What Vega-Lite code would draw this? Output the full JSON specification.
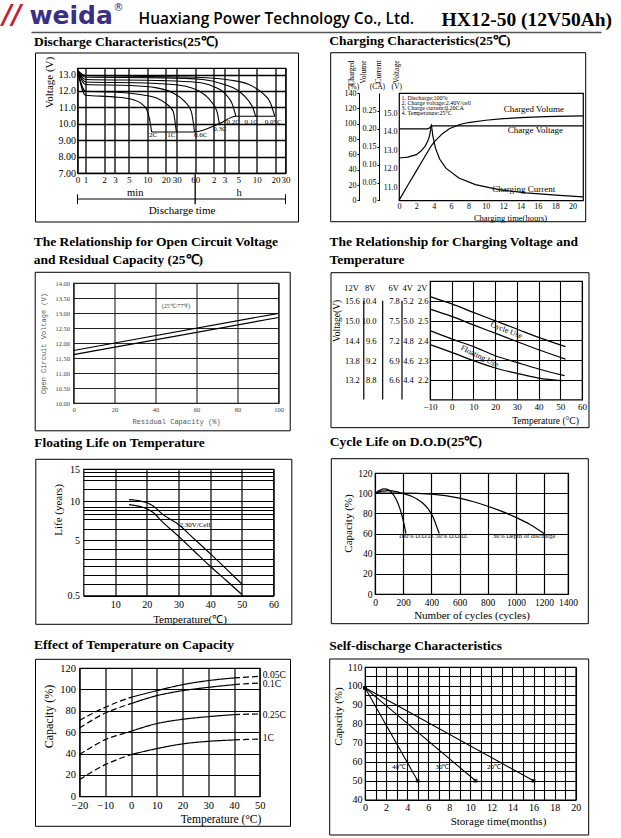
{
"$schema": "https://vega.github.io/schema/vega-lite/v6.json",
"autosize": {"type": "none"},
"padding": {"left": 0, "top": 0, "right": 621, "bottom": 838},
"background": "white",
"spacing": 0,
"vconcat": [
{"spacing": 0, "hconcat": [
 {"width": 0.001, "height": 0.001, "data": {"values": []}, "mark": "point", "view": {"stroke": null}},
 {
   "width": 570, "height": 32, "view": {"stroke": null},
   "layer": [
    {"data": {"values": []}, "mark": "point",
     "encoding": {
      "x": {"field": "x", "type": "quantitative", "scale": {"domain": [0, 1]}, "axis": {"orient": "bottom", "labels": false, "ticks": false, "grid": false, "domain": true, "domainColor": "#555", "domainWidth": 1.5, "title": "HX12-50 (12V50Ah)", "titleFont": "Liberation Serif", "titleFontSize": 19.5, "titleFontWeight": "bold", "titleX": 410, "titleY": -13, "titleAlign": "left", "titleBaseline": "middle"}},
      "y": {"field": "y", "type": "quantitative", "scale": {"domain": [0, 1]}, "axis": {"orient": "left", "labels": false, "ticks": false, "grid": false, "domain": false, "title": "weida", "titleAngle": 0, "titleX": -2, "titleY": 15, "titleAlign": "left", "titleBaseline": "middle", "titleFont": "DejaVu Sans", "titleFontWeight": "bold", "titleFontSize": 25, "titleColor": "#3a2f85"}}
     }},
    {"data": {"values": []}, "mark": "point",
     "encoding": {
      "x": {"field": "x", "type": "quantitative", "scale": {"domain": [0, 1]}, "axis": {"orient": "top", "labels": false, "ticks": false, "grid": false, "domain": false, "title": "Huaxiang Power Technology Co., Ltd.", "titleFont": "Open Sans", "titleFontSize": 15.5, "titleFontWeight": 600, "titleX": 107, "titleY": 18, "titleAlign": "left", "titleBaseline": "middle"}},
      "y": {"field": "y", "type": "quantitative", "scale": {"domain": [0, 1]}, "axis": {"orient": "right", "labels": false, "ticks": false, "grid": false, "domain": false, "title": "®", "titleAngle": 0, "titleX": -488, "titleY": 7, "titleAlign": "left", "titleBaseline": "middle", "titleFont": "DejaVu Sans", "titleFontSize": 10, "titleColor": "#3a2f85"}}
     }},
    {"data": {"values": []}, "mark": "point",
     "encoding": {
      "x": {"field": "x", "type": "quantitative", "scale": {"domain": [0, 1]}, "axis": null},
      "y": {"field": "y", "type": "quantitative", "scale": {"domain": [0, 1]}, "axis": {"orient": "left", "labels": false, "ticks": false, "grid": false, "domain": false, "title": "//", "titleAngle": 0, "titleX": -29, "titleY": 15, "titleAlign": "left", "titleBaseline": "middle", "titleFont": "DejaVu Sans", "titleFontWeight": "bold", "titleFontStyle": "italic", "titleFontSize": 26, "titleColor": "#c62032"}}
     }},
    {"data": {"values": [{}]}, "mark": {"type": "rect", "opacity": 0},
     "encoding": {"x": {"datum": -0.05263, "type": "quantitative", "scale": {"domain": [0, 1]}, "axis": null}, "x2": {"datum": 1.03684}, "y": {"datum": 1, "type": "quantitative", "scale": {"domain": [0, 1]}, "axis": null}, "y2": {"datum": 0.0125}}}
   ],
   "resolve": {"scale": {"x": "independent", "y": "independent"}, "axis": {"x": "independent", "y": "independent"}}
 }
]},
{"spacing": -1.5, "hconcat": [
 {"width": 0.001, "height": 0.001, "data": {"values": []}, "mark": "point", "view": {"stroke": null}},
 {"spacing": 0, "vconcat": [
  {"width": 0.001, "height": 0.001, "data": {"values": []}, "mark": "point", "view": {"stroke": null}},
  {
   "width": 208, "height": 105,
   "layer": [
    {"data": {"values": [
     {"c":"2C","t":0.74,"v":13.25},{"c":"2C","t":1,"v":11.74},{"c":"2C","t":2.85,"v":11.64},{"c":"2C","t":5.28,"v":11.52},{"c":"2C","t":8.14,"v":11.21},{"c":"2C","t":9.8,"v":10.87},{"c":"2C","t":10.8,"v":10.36},{"c":"2C","t":11.8,"v":9.5},
     {"c":"1C","t":0.74,"v":13.25},{"c":"1C","t":1,"v":11.98},{"c":"1C","t":2.85,"v":11.94},{"c":"1C","t":7.65,"v":11.78},{"c":"1C","t":14.2,"v":11.57},{"c":"1C","t":20.5,"v":11.21},{"c":"1C","t":26.3,"v":10.76},{"c":"1C","t":29.7,"v":9.5},
     {"c":"0.6C","t":0.74,"v":13.25},{"c":"0.6C","t":1,"v":12.39},{"c":"0.6C","t":5.28,"v":12.33},{"c":"0.6C","t":14.2,"v":12.19},{"c":"0.6C","t":26.3,"v":11.88},{"c":"0.6C","t":40.4,"v":11.37},{"c":"0.6C","t":51.8,"v":10.76},{"c":"0.6C","t":58.6,"v":9.5},
     {"c":"0.3C","t":0.74,"v":13.25},{"c":"0.3C","t":1,"v":12.55},{"c":"0.3C","t":9.8,"v":12.49},{"c":"0.3C","t":33.6,"v":12.35},{"c":"0.3C","t":70.5,"v":11.98},{"c":"0.3C","t":108,"v":11.37},{"c":"0.3C","t":135,"v":10.76},{"c":"0.3C","t":148,"v":10.01},
     {"c":"0.2C","t":0.74,"v":13.25},{"c":"0.2C","t":1,"v":12.7},{"c":"0.2C","t":18.1,"v":12.63},{"c":"0.2C","t":62.3,"v":12.53},{"c":"0.2C","t":115,"v":12.29},{"c":"0.2C","t":189,"v":11.78},{"c":"0.2C","t":242,"v":11.17},{"c":"0.2C","t":274,"v":10.46},
     {"c":"0.1C","t":0.74,"v":13.25},{"c":"0.1C","t":1,"v":12.84},{"c":"0.1C","t":18.1,"v":12.8},{"c":"0.1C","t":79.7,"v":12.7},{"c":"0.1C","t":167,"v":12.43},{"c":"0.1C","t":310,"v":11.98},{"c":"0.1C","t":448,"v":11.37},{"c":"0.1C","t":519,"v":10.96},{"c":"0.1C","t":573,"v":10.46},
     {"c":"0.05C","t":0.74,"v":13.25},{"c":"0.05C","t":1,"v":12.94},{"c":"0.05C","t":5.28,"v":12.9},{"c":"0.05C","t":62.3,"v":12.84},{"c":"0.05C","t":214,"v":12.67},{"c":"0.05C","t":448,"v":12.39},{"c":"0.05C","t":734,"v":11.88},{"c":"0.05C","t":999,"v":11.27},{"c":"0.05C","t":1172,"v":10.46},
     {"c":"end","t":11.8,"v":9.5},{"c":"end","t":58.6,"v":9.5},{"c":"end","t":148,"v":10.01},{"c":"end","t":274,"v":10.46},{"c":"end","t":1172,"v":10.46}
    ]},
    "mark": {"type": "line", "strokeWidth": 1.1, "interpolate": "monotone"},
    "encoding": {
     "x": {"field": "t", "type": "quantitative", "scale": {"type": "log", "domain": [0.74, 1750]},
           "axis": {"values": [0.74,1,2,3,5,10,20,30,60,120,180,300,600,1200,1750], "labelExpr": "datum.value < 0.9 ? '0' : datum.value > 1700 ? '30' : datum.value >= 120 ? format(datum.value / 60, 'd') : format(datum.value, 'd')", "grid": true, "gridWidth": 1.3, "labelFontSize": 9, "title": "Discharge time", "titleFontSize": 11, "titlePadding": 20}},
     "y": {"field": "v", "type": "quantitative", "scale": {"domain": [7, 13.4]},
           "axis": {"values": [7,8,9,10,11,12,13], "labelExpr": "datum.value >= 10 ? format(datum.value, '.1f') : format(datum.value, '.2f')", "grid": true, "gridWidth": 1.3, "labelFontSize": 10, "title": "Voltage (V)", "titleFontSize": 11, "titleY": 14}},
     "detail": {"field": "c", "type": "nominal"}
    }},
    {"data": {"values": [
     {"label":"2C","t":12.4,"v":9.3},{"label":"1C","t":24.7,"v":9.3},{"label":"0.6C","t":74,"v":9.3},{"label":"0.3C","t":151,"v":9.7},{"label":"0.2C","t":248,"v":10.1},{"label":"0.1C","t":488,"v":10.1},{"label":"0.05C","t":1102,"v":10.1}
    ]},
    "mark": {"type": "text", "fontSize": 7, "baseline": "middle"},
    "encoding": {"x": {"field": "t", "type": "quantitative", "scale": {"type": "log", "domain": [0.74, 1750]}, "axis": null}, "y": {"field": "v", "type": "quantitative", "scale": {"domain": [7, 13.4]}, "axis": null}, "text": {"field": "label"}}},
    {"data": {"values": [{}]}, "mark": {"type": "rule", "strokeWidth": 1},
     "encoding": {"x": {"datum": 0.74, "type": "quantitative", "scale": {"type": "log", "domain": [0.74, 1750]}, "axis": null}, "x2": {"datum": 1750}, "y": {"datum": 5.415, "type": "quantitative", "scale": {"domain": [7, 13.4]}, "axis": null}}},
    {"data": {"values": [{}]}, "mark": {"type": "rule", "strokeWidth": 1.3},
     "encoding": {"x": {"datum": 60, "type": "quantitative", "scale": {"type": "log", "domain": [0.74, 1750]}, "axis": null}, "y": {"datum": 7, "type": "quantitative", "scale": {"domain": [7, 13.4]}, "axis": null}, "y2": {"datum": 5.1}}},
    {"data": {"values": [{}]}, "mark": {"type": "rule", "strokeWidth": 1},
     "encoding": {"x": {"datum": 0.74, "type": "quantitative", "scale": {"type": "log", "domain": [0.74, 1750]}, "axis": null}, "y": {"datum": 5.7, "type": "quantitative", "scale": {"domain": [7, 13.4]}, "axis": null}, "y2": {"datum": 5.1}}},
    {"data": {"values": [{}]}, "mark": {"type": "rule", "strokeWidth": 1},
     "encoding": {"x": {"datum": 1750, "type": "quantitative", "scale": {"type": "log", "domain": [0.74, 1750]}, "axis": null}, "y": {"datum": 5.7, "type": "quantitative", "scale": {"domain": [7, 13.4]}, "axis": null}, "y2": {"datum": 5.1}}},
    {"data": {"values": [{}]}, "mark": {"type": "text", "fontSize": 10.5},
     "encoding": {"x": {"datum": 6.4, "type": "quantitative", "scale": {"type": "log", "domain": [0.74, 1750]}, "axis": null}, "y": {"datum": 5.8, "type": "quantitative", "scale": {"domain": [7, 13.4]}, "axis": null}, "text": {"value": "min"}}},
    {"data": {"values": [{}]}, "mark": {"type": "text", "fontSize": 10.5},
     "encoding": {"x": {"datum": 310, "type": "quantitative", "scale": {"type": "log", "domain": [0.74, 1750]}, "axis": null}, "y": {"datum": 5.8, "type": "quantitative", "scale": {"domain": [7, 13.4]}, "axis": null}, "text": {"value": "h"}}},
    {"data": {"values": [{}]}, "mark": {"type": "rect", "filled": false, "stroke": "black", "strokeWidth": 1},
     "encoding": {"x": {"datum": 0.1542, "type": "quantitative", "scale": {"type": "log", "domain": [0.74, 1750]}, "axis": null}, "x2": {"datum": 2843}, "y": {"datum": 14.314, "type": "quantitative", "scale": {"domain": [7, 13.4]}, "axis": null}, "y2": {"datum": 4.013}}},
    {"data": {"values": [{}]}, "mark": {"type": "rect", "opacity": 0},
     "encoding": {"x": {"datum": 0.04172, "type": "quantitative", "scale": {"type": "log", "domain": [0.74, 1750]}, "axis": null}, "x2": {"datum": 6468}, "y": {"datum": 15.448, "type": "quantitative", "scale": {"domain": [7, 13.4]}, "axis": null}, "y2": {"datum": 3.793}}},
    {"data": {"values": []}, "mark": "point",
     "encoding": {"x": {"field": "x", "type": "quantitative", "scale": {"domain": [0, 1]}, "axis": {"orient": "top", "labels": false, "ticks": false, "domain": false, "grid": false, "title": "Discharge Characteristics(25℃)", "titleFontWeight": "bold", "titleFontSize": 13.5, "titleX": -44, "titleY": -27, "titleAlign": "left", "titleBaseline": "middle"}}}}
   ],
   "resolve": {"scale": {"x": "independent", "y": "independent"}, "axis": {"x": "independent", "y": "independent"}}
  }
 ]},
 {"spacing": 0, "vconcat": [
  {"width": 0.001, "height": 0.001, "data": {"values": []}, "mark": "point", "view": {"stroke": null}},
  {
   "width": 184, "height": 107.4,
   "layer": [
    {"data": {"values": [{"t":0,"v":12.59},{"t":1,"v":12.64},{"t":2,"v":12.77},{"t":2.5,"v":12.95},{"t":3,"v":13.22},{"t":3.3,"v":13.49},{"t":3.5,"v":13.76},{"t":3.65,"v":14.12},{"t":3.74,"v":14.33},{"t":21.2,"v":14.33}]},
     "mark": {"type": "line", "strokeWidth": 1.2},
     "encoding": {
      "x": {"field": "t", "type": "quantitative", "scale": {"domain": [0, 21.2]}, "axis": {"values": [0,2,4,6,8,10,12,14,16,18,20], "labelFontSize": 8, "labelPadding": 2, "title": "Charging time(hours)", "titleFontSize": 8.5, "titleX": 111, "titlePadding": 3, "grid": false}},
      "y": {"field": "v", "type": "quantitative", "scale": {"domain": [10.3, 16.1]}, "axis": {"orient": "left", "offset": 0, "values": [11,12,13,14,15], "format": ".1f", "labelFontSize": 8, "labelPadding": 2, "grid": false, "title": "Voltage", "titleFontSize": 7.5, "titleAngle": -90, "titleX": -3, "titleY": -33, "titleAlign": "right", "titleBaseline": "middle"}}
     }},
    {"data": {"values": [{}]}, "mark": {"type": "text", "align": "left", "baseline": "top", "fontSize": 6, "lineHeight": 5},
     "encoding": {"x": {"datum": 0.3, "type": "quantitative", "scale": {"domain": [0, 21.2]}, "axis": null}, "y": {"datum": 16.0, "type": "quantitative", "scale": {"domain": [10.3, 16.1]}, "axis": null},
      "text": {"value": ["1. Discharge:100%", "2. Charge voltage:2.40V/cell", "3. Charge current:0.20CA", "4. Temperature:25°C"]}}},
    {"data": {"values": [{"label":"Charged Volume","t":19.0,"v":15.22},{"label":"Charge Voltage","t":18.9,"v":14.09},{"label":"Charging Current","t":18.0,"v":10.93}]},
     "mark": {"type": "text", "align": "right", "baseline": "middle", "fontSize": 9},
     "encoding": {"x": {"field": "t", "type": "quantitative", "scale": {"domain": [0, 21.2]}, "axis": null}, "y": {"field": "v", "type": "quantitative", "scale": {"domain": [10.3, 16.1]}, "axis": null}, "text": {"field": "label"}}},
    {"data": {"values": [{}]}, "mark": {"type": "text", "fontSize": 7.5, "dx": -2.3, "dy": -5.6},
     "encoding": {"x": {"datum": 0, "type": "quantitative", "scale": {"domain": [0, 21.2]}, "axis": null}, "y": {"datum": 16.1, "type": "quantitative", "scale": {"domain": [10.3, 16.1]}, "axis": null}, "text": {"value": "(V)"}}},
    {"data": {"values": [{}]}, "mark": {"type": "rect", "filled": false, "stroke": "black", "strokeWidth": 1},
     "encoding": {"x": {"datum": -7.869, "type": "quantitative", "scale": {"domain": [0, 21.2]}, "axis": null}, "x2": {"datum": 21.511}, "y": {"datum": 18.276, "type": "quantitative", "scale": {"domain": [10.3, 16.1]}, "axis": null}, "y2": {"datum": 9.149}}},
    {"data": {"values": [{}]}, "mark": {"type": "rect", "opacity": 0},
     "encoding": {"x": {"datum": -9.021, "type": "quantitative", "scale": {"domain": [0, 21.2]}, "axis": null}, "x2": {"datum": 25.659}, "y": {"datum": 19.28, "type": "quantitative", "scale": {"domain": [10.3, 16.1]}, "axis": null}, "y2": {"datum": 8.956}}},
    {"data": {"values": [{"t":0,"c":0.2},{"t":3.3,"c":0.2},{"t":3.55,"c":0.203},{"t":3.74,"c":0.21},{"t":3.9,"c":0.18},{"t":4.2,"c":0.146},{"t":4.7,"c":0.115},{"t":5.4,"c":0.09},{"t":6.9,"c":0.0625},{"t":8.8,"c":0.044},{"t":11.5,"c":0.03},{"t":14.6,"c":0.021},{"t":18.5,"c":0.014},{"t":21.2,"c":0.01}]},
     "mark": {"type": "line", "strokeWidth": 1.2},
     "encoding": {
      "x": {"field": "t", "type": "quantitative", "scale": {"domain": [0, 21.2]}, "axis": null},
      "y": {"field": "c", "type": "quantitative", "scale": {"domain": [0, 0.3]}, "axis": {"orient": "left", "offset": 20, "values": [0,0.05,0.1,0.15,0.2,0.25], "labelExpr": "datum.value == 0 ? '0' : format(datum.value, '.2f')", "domain": true, "domainColor": "black", "ticks": true, "tickSize": 2, "tickColor": "black", "labelFontSize": 8, "labelPadding": 1, "grid": false, "title": "Current", "titleFontSize": 7.5, "titleAngle": -90, "titleX": -1, "titleY": -33, "titleAlign": "right", "titleBaseline": "middle"}}
     }},
    {"data": {"values": [{}]}, "mark": {"type": "text", "fontSize": 7.5, "dx": -21.6, "dy": -5.6},
     "encoding": {"x": {"datum": 0, "type": "quantitative", "scale": {"domain": [0, 21.2]}, "axis": null}, "y": {"datum": 0.3, "type": "quantitative", "scale": {"domain": [0, 0.3]}, "axis": null}, "text": {"value": "(CA)"}}},
    {"data": {"values": [{"t":0,"p":0},{"t":1,"p":19.5},{"t":2,"p":38.5},{"t":3,"p":57.5},{"t":3.74,"p":71.5},{"t":4.2,"p":78},{"t":5,"p":87},{"t":5.8,"p":93.5},{"t":7,"p":99},{"t":8,"p":101.5},{"t":10,"p":104.5},{"t":12,"p":106.5},{"t":14,"p":107.8},{"t":16,"p":108.8},{"t":18,"p":109.5},{"t":21.2,"p":110.3}]},
     "mark": {"type": "line", "strokeWidth": 1.2},
     "encoding": {
      "x": {"field": "t", "type": "quantitative", "scale": {"domain": [0, 21.2]}, "axis": null},
      "y": {"field": "p", "type": "quantitative", "scale": {"domain": [0, 140]}, "axis": {"orient": "left", "offset": 40, "values": [0,20,40,60,80,100,120,140], "domain": true, "domainColor": "black", "ticks": true, "tickSize": 2, "tickColor": "black", "labelFontSize": 8, "labelPadding": 1, "grid": false, "title": ["Charged", "Volume"], "titleLineHeight": 12, "titleFontSize": 7.5, "titleAngle": -90, "titleX": -7.3, "titleY": -33, "titleAlign": "right", "titleBaseline": "middle"}}
     }},
    {"data": {"values": [{}]}, "mark": {"type": "text", "fontSize": 7.5, "dx": -45.3, "dy": -5.6},
     "encoding": {"x": {"datum": 0, "type": "quantitative", "scale": {"domain": [0, 21.2]}, "axis": null}, "y": {"datum": 140, "type": "quantitative", "scale": {"domain": [0, 140]}, "axis": null}, "text": {"value": "(%)"}}},
    {"data": {"values": []}, "mark": "point",
     "encoding": {"x": {"field": "x", "type": "quantitative", "scale": {"domain": [0, 1]}, "axis": {"orient": "top", "labels": false, "ticks": false, "domain": false, "grid": false, "title": "Charging Characteristics(25℃)", "titleFontWeight": "bold", "titleFontSize": 13.5, "titleX": -70.3, "titleY": -52.3, "titleAlign": "left", "titleBaseline": "middle"}}}}
   ],
   "resolve": {"scale": {"x": "independent", "y": "independent"}, "axis": {"x": "independent", "y": "independent"}}
  }
 ]}
]},
{"spacing": -1.5, "hconcat": [
 {"width": 0.001, "height": 0.001, "data": {"values": []}, "mark": "point", "view": {"stroke": null}},
 {"spacing": 0, "vconcat": [
  {"width": 0.001, "height": 0.001, "data": {"values": []}, "mark": "point", "view": {"stroke": null}},
  {
   "width": 205, "height": 120,
   "layer": [
    {"data": {"values": [{"s":"upper","r":0,"v":11.75},{"s":"upper","r":100,"v":12.99},{"s":"lower","r":0,"v":11.61},{"s":"lower","r":100,"v":12.85}]},
     "mark": {"type": "line", "strokeWidth": 1.2},
     "encoding": {
      "x": {"field": "r", "type": "quantitative", "scale": {"domain": [0, 100]}, "axis": {"values": [0,20,40,60,80,100], "grid": true, "gridColor": "#222", "gridWidth": 1.1, "labelFontSize": 6.5, "labelColor": "#444", "labelPadding": 3, "title": "Residual Capacity (%)", "titleFont": "Liberation Mono", "titleFontSize": 7, "titleColor": "#555", "titlePadding": 5}},
      "y": {"field": "v", "type": "quantitative", "scale": {"domain": [10, 14]}, "axis": {"values": [10,10.5,11,11.5,12,12.5,13,13.5,14], "format": ".2f", "grid": true, "gridColor": "#222", "gridWidth": 1.1, "labelFontSize": 6.5, "labelColor": "#444", "labelPadding": 4, "title": "Open Circuit Voltage (V)", "titleFont": "Liberation Mono", "titleFontSize": 7, "titleColor": "#555", "titlePadding": 8}},
      "detail": {"field": "s", "type": "nominal"}
     }},
    {"data": {"values": [{}]}, "mark": {"type": "text", "fontSize": 6, "color": "#444"},
     "encoding": {"x": {"datum": 50, "type": "quantitative", "scale": {"domain": [0, 100]}, "axis": null}, "y": {"datum": 13.22, "type": "quantitative", "scale": {"domain": [10, 14]}, "axis": null}, "text": {"value": "(25℃/77℉)"}}},
    {"data": {"values": [{}]}, "mark": {"type": "rect", "filled": false, "stroke": "black", "strokeWidth": 1},
     "encoding": {"x": {"datum": -18.68, "type": "quantitative", "scale": {"domain": [0, 100]}, "axis": null}, "x2": {"datum": 105.71}, "y": {"datum": 14.357, "type": "quantitative", "scale": {"domain": [10, 14]}, "axis": null}, "y2": {"datum": 9.073}}},
    {"data": {"values": [{}]}, "mark": {"type": "rect", "opacity": 0},
     "encoding": {"x": {"datum": -35.76, "type": "quantitative", "scale": {"domain": [0, 100]}, "axis": null}, "x2": {"datum": 120.34}, "y": {"datum": 15.81, "type": "quantitative", "scale": {"domain": [10, 14]}, "axis": null}, "y2": {"datum": 9.037}}},
    {"data": {"values": []}, "mark": "point",
     "encoding": {"x": {"field": "x", "type": "quantitative", "scale": {"domain": [0, 1]}, "axis": {"orient": "top", "labels": false, "ticks": false, "domain": false, "grid": false, "title": ["The Relationship for Open Circuit Voltage", "and Residual Capacity (25℃)"], "titleLineHeight": 18, "titleFontWeight": "bold", "titleFontSize": 13.5, "titleX": -40.3, "titleY": -41.7, "titleAlign": "left", "titleBaseline": "middle"}}}}
   ],
   "resolve": {"scale": {"x": "independent", "y": "independent"}, "axis": {"x": "independent", "y": "independent"}}
  }
 ]},
 {"spacing": 0, "vconcat": [
  {"width": 0.001, "height": 0.001, "data": {"values": []}, "mark": "point", "view": {"stroke": null}},
  {
   "width": 152, "height": 118.6,
   "layer": [
    {"data": {"values": [
      {"s":"cu","t":-10,"v":2.621},{"s":"cu","t":0,"v":2.584},{"s":"cu","t":10,"v":2.541},{"s":"cu","t":20,"v":2.499},{"s":"cu","t":30,"v":2.457},{"s":"cu","t":40,"v":2.415},{"s":"cu","t":52.4,"v":2.368},
      {"s":"cl","t":-10,"v":2.558},{"s":"cl","t":0,"v":2.521},{"s":"cl","t":10,"v":2.478},{"s":"cl","t":20,"v":2.436},{"s":"cl","t":30,"v":2.394},{"s":"cl","t":40,"v":2.352},{"s":"cl","t":52.4,"v":2.305},
      {"s":"fu","t":-10,"v":2.449},{"s":"fu","t":0,"v":2.407},{"s":"fu","t":10,"v":2.368},{"s":"fu","t":20,"v":2.322},{"s":"fu","t":30,"v":2.288},{"s":"fu","t":40,"v":2.255},{"s":"fu","t":52,"v":2.221},
      {"s":"fl","t":-10,"v":2.378},{"s":"fl","t":0,"v":2.339},{"s":"fl","t":10,"v":2.297},{"s":"fl","t":20,"v":2.26},{"s":"fl","t":30,"v":2.233},{"s":"fl","t":40,"v":2.209},{"s":"fl","t":51,"v":2.196}
     ]},
     "mark": {"type": "line", "strokeWidth": 1.2, "interpolate": "monotone"},
     "encoding": {
      "x": {"field": "t", "type": "quantitative", "scale": {"domain": [-10, 60]}, "axis": {"values": [-10,0,10,20,30,40,50,60], "grid": true, "gridWidth": 1.1, "labelFontSize": 9, "labelPadding": 3, "title": "Temperature (°C)", "titleFontSize": 9.5, "titleX": 115, "titlePadding": 4}},
      "y": {"field": "v", "type": "quantitative", "scale": {"domain": [2.1, 2.7]}, "axis": {"orient": "left", "offset": 2, "values": [2.2,2.3,2.4,2.5,2.6], "format": ".1f", "grid": true, "gridWidth": 1.1, "labelFontSize": 8.5, "labelPadding": 0, "title": "2V", "titleAngle": 0, "titleX": -1, "titleY": 6, "titleAlign": "right", "titleBaseline": "middle", "titleFontSize": 8.5}},
      "detail": {"field": "s", "type": "nominal"}
     }},
    {"data": {"values": [{}]}, "mark": {"type": "text", "fontSize": 8, "angle": 21},
     "encoding": {"x": {"datum": 25.1, "type": "quantitative", "scale": {"domain": [-10, 60]}, "axis": null}, "y": {"datum": 2.449, "type": "quantitative", "scale": {"domain": [2.1, 2.7]}, "axis": null}, "text": {"value": "Cycle Use"}}},
    {"data": {"values": [{}]}, "mark": {"type": "text", "fontSize": 8, "angle": 26},
     "encoding": {"x": {"datum": 12.8, "type": "quantitative", "scale": {"domain": [-10, 60]}, "axis": null}, "y": {"datum": 2.317, "type": "quantitative", "scale": {"domain": [2.1, 2.7]}, "axis": null}, "text": {"value": "Floating Use"}}},
    {"data": {"values": [{}]}, "mark": {"type": "rect", "filled": false, "stroke": "black", "strokeWidth": 1},
     "encoding": {"x": {"datum": -55.59, "type": "quantitative", "scale": {"domain": [-10, 60]}, "axis": null}, "x2": {"datum": 63.22}, "y": {"datum": 2.742, "type": "quantitative", "scale": {"domain": [2.1, 2.7]}, "axis": null}, "y2": {"datum": 1.958}}},
    {"data": {"values": [{}]}, "mark": {"type": "rect", "opacity": 0},
     "encoding": {"x": {"datum": -60.2, "type": "quantitative", "scale": {"domain": [-10, 60]}, "axis": null}, "x2": {"datum": 78.42}, "y": {"datum": 2.9625, "type": "quantitative", "scale": {"domain": [2.1, 2.7]}, "axis": null}, "y2": {"datum": 1.9346}}},
    {"data": {"values": [{}]}, "mark": {"type": "rule", "strokeWidth": 1.2},
     "encoding": {"x": {"datum": -22.9, "type": "quantitative", "scale": {"domain": [-10, 60]}, "axis": null},
      "y": {"datum": 4.2, "type": "quantitative", "scale": {"domain": [4.2, 5.4]}, "axis": {"orient": "left", "offset": 16.7, "values": [4.4,4.6,4.8,5.0,5.2], "format": ".1f", "grid": false, "labelFontSize": 8.5, "labelPadding": 0, "title": "4V", "titleAngle": 0, "titleX": -1, "titleY": 6, "titleAlign": "right", "titleBaseline": "middle", "titleFontSize": 8.5}},
      "y2": {"datum": 5.2}}},
    {"data": {"values": [{}]}, "mark": {"type": "rule", "strokeWidth": 1.2},
     "encoding": {"x": {"datum": -31.8, "type": "quantitative", "scale": {"domain": [-10, 60]}, "axis": null},
      "y": {"datum": 6.3, "type": "quantitative", "scale": {"domain": [6.3, 8.1]}, "axis": {"orient": "left", "offset": 30.7, "values": [6.6,6.9,7.2,7.5,7.8], "format": ".1f", "grid": false, "labelFontSize": 8.5, "labelPadding": 0, "title": "6V", "titleAngle": 0, "titleX": -1, "titleY": 6, "titleAlign": "right", "titleBaseline": "middle", "titleFontSize": 8.5}},
      "y2": {"datum": 7.8}}},
    {"data": {"values": [{}]}, "mark": {"type": "rule", "strokeWidth": 1.2},
     "encoding": {"x": {"datum": -40.5, "type": "quantitative", "scale": {"domain": [-10, 60]}, "axis": null},
      "y": {"datum": 8.4, "type": "quantitative", "scale": {"domain": [8.4, 10.8]}, "axis": {"orient": "left", "offset": 54, "values": [8.8,9.2,9.6,10.0,10.4], "format": ".1f", "grid": false, "labelFontSize": 8.5, "labelPadding": 0, "title": "8V", "titleAngle": 0, "titleX": -1, "titleY": 6, "titleAlign": "right", "titleBaseline": "middle", "titleFontSize": 8.5}},
      "y2": {"datum": 10.4}}},
    {"data": {"values": [{}]}, "mark": {"type": "text", "fontSize": 9.5, "angle": 270},
     "encoding": {"x": {"datum": -52.8, "type": "quantitative", "scale": {"domain": [-10, 60]}, "axis": null},
      "y": {"datum": 14.99, "type": "quantitative", "scale": {"domain": [12.6, 16.2]}, "axis": {"orient": "left", "offset": 70.7, "values": [13.2,13.8,14.4,15.0,15.6], "format": ".1f", "grid": false, "labelFontSize": 8.5, "labelPadding": 0, "title": "12V", "titleAngle": 0, "titleX": -1, "titleY": 6, "titleAlign": "right", "titleBaseline": "middle", "titleFontSize": 8.5}},
      "text": {"value": "Voltage(V)"}}},
    {"data": {"values": []}, "mark": "point",
     "encoding": {"x": {"field": "x", "type": "quantitative", "scale": {"domain": [0, 1]}, "axis": {"orient": "top", "labels": false, "ticks": false, "domain": false, "grid": false, "title": ["The Relationship for Charging Voltage and", "Temperature"], "titleLineHeight": 18, "titleFontWeight": "bold", "titleFontSize": 13.5, "titleX": -101, "titleY": -39.3, "titleAlign": "left", "titleBaseline": "middle"}}}}
   ],
   "resolve": {"scale": {"x": "independent", "y": "independent"}, "axis": {"x": "independent", "y": "independent"}}
  }
 ]}
]},
{"spacing": -1.5, "hconcat": [
 {"width": 0.001, "height": 0.001, "data": {"values": []}, "mark": "point", "view": {"stroke": null}},
 {"spacing": 0, "vconcat": [
  {"width": 0.001, "height": 0.001, "data": {"values": []}, "mark": "point", "view": {"stroke": null}},
  {
   "width": 190, "height": 126.6,
   "layer": [
    {"data": {"values": [
     {"s":"upper","t":14.4,"life":10.2},{"s":"upper","t":18,"life":10.0},{"s":"upper","t":20,"life":9.75},{"s":"upper","t":22,"life":9.3},{"s":"upper","t":25,"life":8.15},{"s":"upper","t":30,"life":6.85},{"s":"upper","t":35,"life":5.13},{"s":"upper","t":40,"life":3.6},{"s":"upper","t":45,"life":2.25},{"s":"upper","t":50,"life":1.14},
     {"s":"lower","t":14.4,"life":9.48},{"s":"lower","t":18,"life":9.2},{"s":"lower","t":20,"life":8.9},{"s":"lower","t":22,"life":8.4},{"s":"lower","t":25,"life":7.15},{"s":"lower","t":30,"life":5.44},{"s":"lower","t":35,"life":3.83},{"s":"lower","t":40,"life":2.45},{"s":"lower","t":45,"life":1.38},{"s":"lower","t":50,"life":0.55}
    ]},
    "mark": {"type": "line", "strokeWidth": 1.2, "interpolate": "monotone"},
    "encoding": {
     "x": {"field": "t", "type": "quantitative", "scale": {"domain": [0, 60]}, "axis": {"values": [10,20,30,40,50,60], "grid": true, "gridWidth": 1.2, "labelFontSize": 10, "labelPadding": 4, "title": "Temperature(℃)", "titleFontSize": 11, "titleX": 106, "titlePadding": 4}},
     "y": {"field": "life", "type": "quantitative", "scale": {"type": "pow", "exponent": 0.62, "domain": [0.5, 15], "zero": false},
           "axis": {"values": [0.5,1.14,1.78,2.44,3.09,4.06,5,6.29,7.54,8.25,8.7,9.15,10,11.8,13.15,13.8,14.45,15], "labelExpr": "datum.value == 0.5 ? '0.5' : datum.value == 5 ? '5' : datum.value == 10 ? '10' : datum.value == 15 ? '15' : ''", "grid": true, "gridWidth": 1.1, "labelFontSize": 10, "labelPadding": 4, "title": "Life (years)", "titleFontSize": 11, "titleY": 40.5}},
     "detail": {"field": "s", "type": "nominal"}
    }},
    {"data": {"values": [{}]}, "mark": {"type": "text", "fontSize": 7, "align": "left"},
     "encoding": {"x": {"datum": 30.3, "type": "quantitative", "scale": {"domain": [0, 60]}, "axis": null}, "y": {"datum": 6.75, "type": "quantitative", "scale": {"type": "pow", "exponent": 0.62, "domain": [0.5, 15], "zero": false}, "axis": null}, "text": {"value": "2.30V/Cell"}}},
    {"data": {"values": [{}]}, "mark": {"type": "rect", "filled": false, "stroke": "black", "strokeWidth": 1},
     "encoding": {"x": {"datum": -15.06, "type": "quantitative", "scale": {"domain": [0, 60]}, "axis": null}, "x2": {"datum": 65.78}, "y": {"datum": 16.66, "type": "quantitative", "scale": {"type": "pow", "exponent": 0.62, "domain": [0.5, 15], "zero": false}, "axis": null}, "y2": {"datum": -0.2439}}},
    {"data": {"values": [{}]}, "mark": {"type": "rect", "opacity": 0},
     "encoding": {"x": {"datum": -26.12, "type": "quantitative", "scale": {"domain": [0, 60]}, "axis": null}, "x2": {"datum": 74.94}, "y": {"datum": 20.977, "type": "quantitative", "scale": {"type": "pow", "exponent": 0.62, "domain": [0.5, 15], "zero": false}, "axis": null}, "y2": {"datum": -0.6112}}},
    {"data": {"values": []}, "mark": "point",
     "encoding": {"x": {"field": "x", "type": "quantitative", "scale": {"domain": [0, 1]}, "axis": {"orient": "top", "labels": false, "ticks": false, "domain": false, "grid": false, "title": "Floating Life on Temperature", "titleFontWeight": "bold", "titleFontSize": 13.5, "titleX": -49.7, "titleY": -26.7, "titleAlign": "left", "titleBaseline": "middle"}}}}
   ],
   "resolve": {"scale": {"x": "independent", "y": "independent"}, "axis": {"x": "independent", "y": "independent"}}
  }
 ]},
 {"spacing": 0, "vconcat": [
  {"width": 0.001, "height": 0.001, "data": {"values": []}, "mark": "point", "view": {"stroke": null}},
  {
   "width": 193, "height": 121,
   "layer": [
    {"data": {"values": [
     {"d":"100%","n":0,"cap":100},{"d":"100%","n":30,"cap":102.5},{"d":"100%","n":65,"cap":104.2},{"d":"100%","n":100,"cap":103},{"d":"100%","n":125,"cap":99.5},{"d":"100%","n":160,"cap":91},{"d":"100%","n":191,"cap":78},{"d":"100%","n":208,"cap":68},{"d":"100%","n":219,"cap":60},
     {"d":"50%","n":0,"cap":100},{"d":"50%","n":50,"cap":102},{"d":"50%","n":100,"cap":102.5},{"d":"50%","n":150,"cap":101.5},{"d":"50%","n":200,"cap":99.5},{"d":"50%","n":260,"cap":97},{"d":"50%","n":300,"cap":94},{"d":"50%","n":340,"cap":90},{"d":"50%","n":380,"cap":84},{"d":"50%","n":410,"cap":77},{"d":"50%","n":435,"cap":68},{"d":"50%","n":456,"cap":60},
     {"d":"30%","n":0,"cap":100},{"d":"30%","n":200,"cap":100},{"d":"30%","n":400,"cap":99},{"d":"30%","n":500,"cap":97.5},{"d":"30%","n":600,"cap":95},{"d":"30%","n":700,"cap":91.5},{"d":"30%","n":800,"cap":87},{"d":"30%","n":900,"cap":82},{"d":"30%","n":1000,"cap":76},{"d":"30%","n":1100,"cap":69},{"d":"30%","n":1200,"cap":60}
    ]},
    "mark": {"type": "line", "strokeWidth": 1.2, "interpolate": "monotone"},
    "encoding": {
     "x": {"field": "n", "type": "quantitative", "scale": {"domain": [0, 1370]}, "axis": {"values": [0,200,400,600,800,1000,1200,1370], "labelExpr": "datum.value > 1300 ? '1400' : format(datum.value, 'd')", "grid": true, "gridWidth": 1.2, "labelFontSize": 9.5, "labelPadding": 3, "title": "Number of cycles (cycles)", "titleFontSize": 11, "titlePadding": 3}},
     "y": {"field": "cap", "type": "quantitative", "scale": {"domain": [0, 120]}, "axis": {"values": [0,20,40,60,80,100,120], "grid": true, "gridWidth": 1.2, "labelFontSize": 9.5, "labelPadding": 3, "title": "Capacity (%)", "titleFontSize": 11, "titleY": 50}},
     "detail": {"field": "d", "type": "nominal"}
    }},
    {"data": {"values": [{"label":"100% D.O.D.","n":167,"cap":57.8},{"label":"50% D.O.D.","n":427,"cap":57.8},{"label":"30% Depth of  discharge","n":835,"cap":57.8}]},
     "mark": {"type": "text", "fontSize": 6.5, "align": "left", "baseline": "middle"},
     "encoding": {"x": {"field": "n", "type": "quantitative", "scale": {"domain": [0, 1370]}, "axis": null}, "y": {"field": "cap", "type": "quantitative", "scale": {"domain": [0, 120]}, "axis": null}, "text": {"field": "label"}}},
    {"data": {"values": [{}]}, "mark": {"type": "rect", "filled": false, "stroke": "black", "strokeWidth": 1},
     "encoding": {"x": {"datum": -310.2, "type": "quantitative", "scale": {"domain": [0, 1370]}, "axis": null}, "x2": {"datum": 1514.1}, "y": {"datum": 134.18, "type": "quantitative", "scale": {"domain": [0, 120]}, "axis": null}, "y2": {"datum": -29.45}}},
    {"data": {"values": [{}]}, "mark": {"type": "rect", "opacity": 0},
     "encoding": {"x": {"datum": -381.2, "type": "quantitative", "scale": {"domain": [0, 1370]}, "axis": null}, "x2": {"datum": 1755.4}, "y": {"datum": 157.61, "type": "quantitative", "scale": {"domain": [0, 120]}, "axis": null}, "y2": {"datum": -38.01}}},
    {"data": {"values": []}, "mark": "point",
     "encoding": {"x": {"field": "x", "type": "quantitative", "scale": {"domain": [0, 1]}, "axis": {"orient": "top", "labels": false, "ticks": false, "domain": false, "grid": false, "title": "Cycle Life on D.O.D(25℃)", "titleFontWeight": "bold", "titleFontSize": 13.5, "titleX": -45.7, "titleY": -31.3, "titleAlign": "left", "titleBaseline": "middle"}}}}
   ],
   "resolve": {"scale": {"x": "independent", "y": "independent"}, "axis": {"x": "independent", "y": "independent"}}
  }
 ]}
]},
{"spacing": -1.5, "hconcat": [
 {"width": 0.001, "height": 0.001, "data": {"values": []}, "mark": "point", "view": {"stroke": null}},
 {"spacing": 0, "vconcat": [
  {"width": 0.001, "height": 0.001, "data": {"values": []}, "mark": "point", "view": {"stroke": null}},
  {
   "width": 180.3, "height": 128.3,
   "layer": [
    {"data": {"values": [
     {"c":"0.05C","seg":"low","t":-20,"cap":70.8},{"c":"0.05C","seg":"low","t":-15,"cap":77.5},{"c":"0.05C","seg":"low","t":-10,"cap":83.2},{"c":"0.05C","seg":"low","t":-5,"cap":88.3},{"c":"0.05C","seg":"low","t":0,"cap":92.6},
     {"c":"0.05C","seg":"mid","t":0,"cap":92.6},{"c":"0.05C","seg":"mid","t":10,"cap":98.8},{"c":"0.05C","seg":"mid","t":20,"cap":104.4},{"c":"0.05C","seg":"mid","t":30,"cap":108.2},{"c":"0.05C","seg":"mid","t":40,"cap":110.7},
     {"c":"0.05C","seg":"high","t":40,"cap":110.7},{"c":"0.05C","seg":"high","t":45,"cap":111.5},{"c":"0.05C","seg":"high","t":50,"cap":112.2},
     {"c":"0.1C","seg":"low","t":-20,"cap":63.9},{"c":"0.1C","seg":"low","t":-15,"cap":71.3},{"c":"0.1C","seg":"low","t":-10,"cap":77.9},{"c":"0.1C","seg":"low","t":-5,"cap":82.6},{"c":"0.1C","seg":"low","t":0,"cap":86.7},
     {"c":"0.1C","seg":"mid","t":0,"cap":86.7},{"c":"0.1C","seg":"mid","t":10,"cap":94.1},{"c":"0.1C","seg":"mid","t":20,"cap":98.8},{"c":"0.1C","seg":"mid","t":30,"cap":101.9},{"c":"0.1C","seg":"mid","t":40,"cap":104.4},
     {"c":"0.1C","seg":"high","t":40,"cap":104.4},{"c":"0.1C","seg":"high","t":45,"cap":105.3},{"c":"0.1C","seg":"high","t":50,"cap":106},
     {"c":"0.25C","seg":"low","t":-20,"cap":39},{"c":"0.25C","seg":"low","t":-15,"cap":46.5},{"c":"0.25C","seg":"low","t":-10,"cap":53},{"c":"0.25C","seg":"low","t":-5,"cap":57.3},{"c":"0.25C","seg":"low","t":0,"cap":60.8},
     {"c":"0.25C","seg":"mid","t":0,"cap":60.8},{"c":"0.25C","seg":"mid","t":10,"cap":68},{"c":"0.25C","seg":"mid","t":20,"cap":72},{"c":"0.25C","seg":"mid","t":30,"cap":74.5},{"c":"0.25C","seg":"mid","t":40,"cap":76.4},
     {"c":"0.25C","seg":"high","t":40,"cap":76.4},{"c":"0.25C","seg":"high","t":45,"cap":76.8},{"c":"0.25C","seg":"high","t":50,"cap":77},
     {"c":"1C","seg":"low","t":-20,"cap":15.6},{"c":"1C","seg":"low","t":-15,"cap":23},{"c":"1C","seg":"low","t":-10,"cap":29.6},{"c":"1C","seg":"low","t":-5,"cap":34.7},{"c":"1C","seg":"low","t":0,"cap":39},
     {"c":"1C","seg":"mid","t":0,"cap":39},{"c":"1C","seg":"mid","t":10,"cap":44.6},{"c":"1C","seg":"mid","t":20,"cap":49},{"c":"1C","seg":"mid","t":30,"cap":51.4},{"c":"1C","seg":"mid","t":40,"cap":52.7},
     {"c":"1C","seg":"high","t":40,"cap":52.7},{"c":"1C","seg":"high","t":45,"cap":53.2},{"c":"1C","seg":"high","t":50,"cap":53.6}
    ]},
    "mark": {"type": "line", "strokeWidth": 1.2, "interpolate": "monotone"},
    "encoding": {
     "x": {"field": "t", "type": "quantitative", "scale": {"domain": [-20, 50]}, "axis": {"values": [-20,-10,0,10,20,30,40,50], "grid": true, "gridWidth": 1.2, "labelFontSize": 10.5, "labelPadding": 4, "title": "Temperature (°C)", "titleFontSize": 11.5, "titleX": 141, "titlePadding": 3}},
     "y": {"field": "cap", "type": "quantitative", "scale": {"domain": [0, 120]}, "axis": {"values": [0,20,40,60,80,100,120], "grid": true, "gridWidth": 1.2, "labelFontSize": 10.5, "labelPadding": 4, "title": "Capacity (%)", "titleFontSize": 12, "titleY": 48}},
     "detail": [{"field": "c", "type": "nominal"}, {"field": "seg", "type": "nominal"}],
     "strokeDash": {"field": "seg", "type": "nominal", "scale": {"domain": ["low", "mid", "high"], "range": [[6, 3], [1, 0], [6, 3]]}, "legend": null}
    }},
    {"data": {"values": [{"c":"0.05C","t":50,"cap":113.5},{"c":"0.1C","t":50,"cap":105.4},{"c":"0.25C","t":50,"cap":75.8},{"c":"1C","t":50,"cap":54.3}]},
     "mark": {"type": "text", "fontSize": 9.5, "align": "left", "baseline": "middle", "dx": 3},
     "encoding": {"x": {"field": "t", "type": "quantitative", "scale": {"domain": [-20, 50]}, "axis": null}, "y": {"field": "cap", "type": "quantitative", "scale": {"domain": [0, 120]}, "axis": null}, "text": {"field": "c"}}},
    {"data": {"values": [{}]}, "mark": {"type": "rect", "filled": false, "stroke": "black", "strokeWidth": 1},
     "encoding": {"x": {"datum": -37.08, "type": "quantitative", "scale": {"domain": [-20, 50]}, "axis": null}, "x2": {"datum": 61.92}, "y": {"datum": 128.14, "type": "quantitative", "scale": {"domain": [0, 120]}, "axis": null}, "y2": {"datum": -28.06}}},
    {"data": {"values": [{}]}, "mark": {"type": "rect", "opacity": 0},
     "encoding": {"x": {"datum": -50.67, "type": "quantitative", "scale": {"domain": [-20, 50]}, "axis": null}, "x2": {"datum": 73.57}, "y": {"datum": 150.21, "type": "quantitative", "scale": {"domain": [0, 120]}, "axis": null}, "y2": {"datum": -38.91}}},
    {"data": {"values": []}, "mark": "point",
     "encoding": {"x": {"field": "x", "type": "quantitative", "scale": {"domain": [0, 1]}, "axis": {"orient": "top", "labels": false, "ticks": false, "domain": false, "grid": false, "title": "Effect of Temperature on Capacity", "titleFontWeight": "bold", "titleFontSize": 13.5, "titleX": -46, "titleY": -23.7, "titleAlign": "left", "titleBaseline": "middle"}}}}
   ],
   "resolve": {"scale": {"x": "independent", "y": "independent"}, "axis": {"x": "independent", "y": "independent"}}
  }
 ]},
 {"spacing": 0, "vconcat": [
  {"width": 0.001, "height": 0.001, "data": {"values": []}, "mark": "point", "view": {"stroke": null}},
  {
   "width": 210.7, "height": 132.7,
   "data": {"values": [
     {"temp":"40℃","m":0,"cap":99},{"temp":"40℃","m":5.0,"cap":50},
     {"temp":"30℃","m":0,"cap":99},{"temp":"30℃","m":10.5,"cap":50},
     {"temp":"20℃","m":0,"cap":99},{"temp":"20℃","m":16.0,"cap":50}
   ]},
   "layer": [
    {"mark": {"type": "line", "strokeWidth": 1.1},
     "encoding": {
      "x": {"field": "m", "type": "quantitative", "scale": {"domain": [0, 20]}, "axis": {"values": [0,1,2,3,4,5,6,7,8,9,10,11,12,13,14,15,16,17,18,19,20], "labelExpr": "datum.value % 2 == 0 ? format(datum.value, 'd') : ''", "grid": true, "gridWidth": 1.1, "labelFontSize": 10, "labelPadding": 3, "title": "Storage time(months)", "titleFontSize": 11, "titleX": 133, "titlePadding": 3}},
      "y": {"field": "cap", "type": "quantitative", "scale": {"domain": [40, 110]}, "axis": {"values": [40,45,50,55,60,65,70,75,80,85,90,95,100,105,110], "labelExpr": "datum.value % 10 == 0 ? format(datum.value, 'd') : ''", "grid": true, "gridWidth": 1.1, "labelFontSize": 10, "labelPadding": 3, "title": "Capacity (%)", "titleFontSize": 11, "titleY": 49}},
      "detail": {"field": "temp", "type": "nominal"}
     }},
    {"mark": {"type": "point", "shape": "square", "size": 14, "filled": true, "color": "black"},
     "encoding": {"x": {"field": "m", "type": "quantitative", "scale": {"domain": [0, 20]}, "axis": null}, "y": {"field": "cap", "type": "quantitative", "scale": {"domain": [40, 110]}, "axis": null}}},
    {"data": {"values": [{"label":"40℃","m":3.23,"cap":57.2},{"label":"30℃","m":7.35,"cap":57.2},{"label":"20℃","m":12.25,"cap":57.2}]},
     "mark": {"type": "text", "fontSize": 7, "baseline": "middle"},
     "encoding": {"x": {"field": "m", "type": "quantitative", "scale": {"domain": [0, 20]}, "axis": null}, "y": {"field": "cap", "type": "quantitative", "scale": {"domain": [40, 110]}, "axis": null}, "text": {"field": "label"}}},
    {"data": {"values": [{}]}, "mark": {"type": "rect", "filled": false, "stroke": "black", "strokeWidth": 1},
     "encoding": {"x": {"datum": -3.351, "type": "quantitative", "scale": {"domain": [0, 20]}, "axis": null}, "x2": {"datum": 21.233}, "y": {"datum": 114.22, "type": "quantitative", "scale": {"domain": [40, 110]}, "axis": null}, "y2": {"datum": 21.38}}},
    {"data": {"values": [{}]}, "mark": {"type": "rect", "opacity": 0},
     "encoding": {"x": {"datum": -4.205, "type": "quantitative", "scale": {"domain": [0, 20]}, "axis": null}, "x2": {"datum": 24.37}, "y": {"datum": 126.14, "type": "quantitative", "scale": {"domain": [40, 110]}, "axis": null}, "y2": {"datum": 19.48}}},
    {"data": {"values": []}, "mark": "point",
     "encoding": {"x": {"field": "x", "type": "quantitative", "scale": {"domain": [0, 1]}, "axis": {"orient": "top", "labels": false, "ticks": false, "domain": false, "grid": false, "title": "Self-discharge Characteristics", "titleFontWeight": "bold", "titleFontSize": 13.5, "titleX": -36.3, "titleY": -22, "titleAlign": "left", "titleBaseline": "middle"}}}}
   ],
   "resolve": {"scale": {"x": "independent", "y": "independent"}, "axis": {"x": "independent", "y": "independent"}}
  }
 ]}
]}
],
"config": {
 "font": "Liberation Serif",
 "concat": {"spacing": 0},
 "view": {"stroke": "black", "strokeWidth": 1.2},
 "axis": {"labelFont": "Liberation Serif", "titleFont": "Liberation Serif", "labelColor": "black", "titleColor": "black", "titleFontWeight": "normal", "gridColor": "black", "gridOpacity": 1, "gridWidth": 1.1, "domain": false, "ticks": false, "labelPadding": 2, "titlePadding": 4, "labelFontSize": 10, "titleFontSize": 11, "labelFlush": false, "labelOverlap": false, "labelBound": false},
 "line": {"color": "black"},
 "text": {"font": "Liberation Serif", "color": "black"},
 "rule": {"color": "black"}
}
}
